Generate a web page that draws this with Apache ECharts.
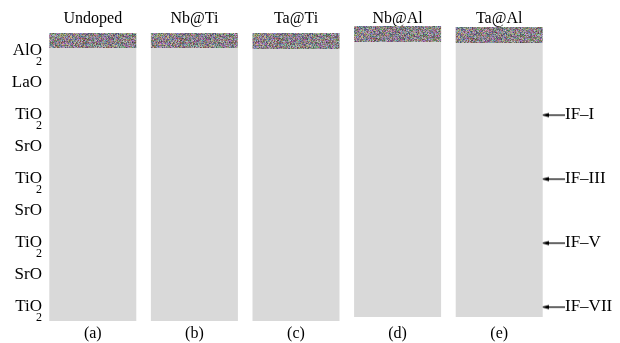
<!DOCTYPE html>
<html><head><meta charset="utf-8">
<script src="https://cdn.jsdelivr.net/npm/echarts@6/dist/echarts.min.js"></script>
<style>html,body{margin:0;padding:0;background:#fff}#c{width:620px;height:343px}</style>
</head><body><div id="c"></div>
<script>
// ---- data ----
const panels = ['(a)', '(b)', '(c)', '(d)', '(e)'];
const dopings = ['Undoped', 'Nb@Ti', 'Ta@Ti', 'Nb@Al', 'Ta@Al'];
// atomic layers, bottom to top (layer index k)
const layers = ['TiO2', 'SrO', 'TiO2', 'SrO', 'TiO2', 'SrO', 'TiO2', 'LaO', 'AlO2', ''];
const interfaces = ['IF–VII', '', 'IF–V', '', 'IF–III', '', 'IF–I', '', '', ''];
// slab extents in layer units
const slabBottom = [-0.44, -0.44, -0.44, -0.31, -0.31];
const surfaceTop = [8.09, 8.09, 8.06, 8.28, 8.25];
const noiseTop = [8.56, 8.56, 8.56, 8.78, 8.75];

const FONT = 'Liberation Serif';
const OFFSET = 0.5; // layer k sits at band centre k+0.5 of the value axis

function makeNoise() {
  const W = 97, H = 89;
  const c = document.createElement('canvas'); c.width = W; c.height = H;
  const ctx = c.getContext('2d');
  const img = ctx.createImageData(W, H);
  let s = 987654321;
  function rnd() { s = (s * 1103515245 + 12345) & 0x7fffffff; return s / 0x7fffffff; }
  const cl = v => Math.max(0, Math.min(255, v));
  for (let i = 0; i < W * H; i++) {
    const b = 95 + rnd() * 75;
    img.data[i * 4] = cl(b + 4 + (rnd() - 0.5) * 85);
    img.data[i * 4 + 1] = cl(b - 2 + (rnd() - 0.5) * 85);
    img.data[i * 4 + 2] = cl(b + 4 + (rnd() - 0.5) * 85);
    img.data[i * 4 + 3] = 255;
  }
  ctx.putImageData(img, 0, 0);
  return c;
}
function makeArrow() {
  const c = document.createElement('canvas'); c.width = 24; c.height = 9;
  const ctx = c.getContext('2d');
  ctx.fillStyle = '#000';
  ctx.fillRect(5, 4, 19, 1.2);
  ctx.beginPath(); ctx.moveTo(0, 4.6); ctx.lineTo(8, 2.4); ctx.lineTo(8, 6.8); ctx.closePath(); ctx.fill();
  return c;
}
const noise = makeNoise();
const arrow = makeArrow();

const baseVals = slabBottom.map(v => +(v + OFFSET).toFixed(3));
const grayVals = surfaceTop.map((v, i) => +(v - slabBottom[i]).toFixed(3));
const noiseVals = noiseTop.map((v, i) => +(v - surfaceTop[i]).toFixed(3));

const chart = echarts.init(document.getElementById('c'), null, {renderer: 'canvas'});
chart.setOption({
  animation: false,
  backgroundColor: '#fff',
  grid: {left: 42, right: 70, top: 3, bottom: 20},
  xAxis: [
    {type: 'category', data: panels, position: 'bottom',
     axisLine: {show: false}, axisTick: {show: false},
     axisLabel: {color: '#000', fontFamily: FONT, fontSize: 16, margin: 3}},
    {type: 'category', data: dopings, position: 'top',
     axisLine: {show: false}, axisTick: {show: false},
     axisLabel: {color: '#000', fontFamily: FONT, fontSize: 16, margin: -15.5, verticalAlign: 'middle'}}
  ],
  yAxis: [
    {type: 'category', data: layers, position: 'left',
     axisLine: {show: false}, axisTick: {show: false}, splitLine: {show: false},
     axisLabel: {
       margin: 0, color: '#000', fontFamily: FONT,
       formatter: v => {
         if (!v) return '';
         if (v.endsWith('2')) return '{e| }\n{n|' + v.slice(0, -1) + '}\n{s|2}';
         return '{p|' + v + '}';
       },
       rich: {
         e: {fontSize: 8, lineHeight: 8, fontFamily: FONT},
         n: {fontSize: 17, lineHeight: 14, fontFamily: FONT, color: '#000'},
         s: {fontSize: 12, lineHeight: 8, fontFamily: FONT, color: '#000'},
         p: {fontSize: 17, fontFamily: FONT, color: '#000'}
       }
     }},
    {type: 'value', min: 0, max: 10, show: false},
    {type: 'category', data: interfaces, position: 'right',
     axisLine: {show: false}, axisTick: {show: false}, splitLine: {show: false},
     axisLabel: {
       margin: -9, color: '#000', fontFamily: FONT,
       formatter: v => v ? '{a| }{t|' + v + '}' : '',
       rich: {
         a: {width: 24, height: 9, backgroundColor: {image: arrow}},
         t: {fontSize: 17, fontFamily: FONT, color: '#000'}
       }
     }}
  ],
  series: [
    {type: 'bar', name: 'base', xAxisIndex: 0, yAxisIndex: 1, stack: 's', barWidth: 87,
     data: baseVals, itemStyle: {color: 'rgba(0,0,0,0)'}, silent: true},
    {type: 'bar', name: 'slab', xAxisIndex: 0, yAxisIndex: 1, stack: 's', barWidth: 87,
     data: grayVals, itemStyle: {color: '#d9d9d9'}},
    {type: 'bar', name: 'disorder', xAxisIndex: 0, yAxisIndex: 1, stack: 's', barWidth: 87,
     data: noiseVals, itemStyle: {color: {image: noise, repeat: 'repeat'}}}
  ]
});
</script>
</body></html>
